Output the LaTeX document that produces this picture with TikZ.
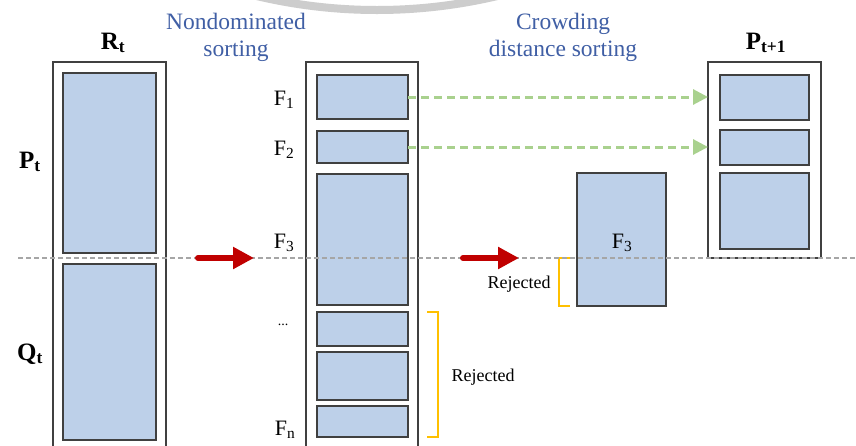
\documentclass[tikz,border=0pt]{standalone}
\usepackage{fontspec}
\setmainfont{Liberation Serif}
\usetikzlibrary{arrows.meta}
\definecolor{boxfill}{RGB}{189,208,233}
\definecolor{boxline}{RGB}{64,64,64}
\definecolor{headblue}{RGB}{64,95,165}
\definecolor{keepgreen}{RGB}{169,209,142}
\definecolor{dropred}{RGB}{192,0,0}
\definecolor{rejorange}{RGB}{255,192,0}
\definecolor{cutgray}{RGB}{166,166,166}
\definecolor{arcgray}{RGB}{205,205,205}
\begin{document}
\begin{tikzpicture}[x=1pt,y=-1pt,
  popbox/.style={draw=boxline,line width=2pt,fill=white,inner sep=0pt,outer sep=0pt},
  frontbox/.style={draw=boxline,line width=2.6pt,fill=boxfill,inner sep=0pt,outer sep=0pt},
  setname/.style={font=\fontsize{25}{29}\selectfont\bfseries,inner sep=0pt},
  flabel/.style={font=\fontsize{22}{26}\selectfont,inner sep=0pt},
  steptitle/.style={font=\fontsize{23.5}{27}\selectfont,text=headblue,align=center,inner sep=0pt},
  rejtext/.style={font=\fontsize{18}{22}\selectfont,inner sep=0pt},
  redarrow/.style={draw=dropred,line width=6pt,line cap=round,-{Triangle[length=21pt,width=21pt]}},
  keeparrow/.style={draw=keepgreen,line width=3pt,dash pattern=on 8pt off 5pt,-{Triangle[length=15pt,width=15pt]}},
  rejbracket/.style={draw=rejorange,line width=2.5pt},
  cutline/.style={draw=cutgray,line width=1.2pt,dash pattern=on 5pt off 3pt}
]
\clip (0,0) rectangle (856,445);
\fill[white] (0,0) rectangle (856,445);

% decorative arc along the top edge
\draw[arcgray,line width=8pt] (377,-510) circle[radius=520];

% R_t = P_t + Q_t
\node[popbox,minimum width=113pt,minimum height=400pt] (rbox) at (109,262) {};
\node[frontbox,minimum width=93pt,minimum height=180pt] (pt) at (109.5,163) {};
\node[frontbox,minimum width=93pt,minimum height=176pt] (qt) at (109.5,352) {};
\node[setname] (rlab) at (113,43) {R\textsubscript{t}};
\node[setname] (plab) at (30,162) {P\textsubscript{t}};
\node[setname] (qlab) at (30,354) {Q\textsubscript{t}};

% fronts after nondominated sorting
\node[popbox,minimum width=112pt,minimum height=400pt] (fbox) at (362,262) {};
\node[frontbox,minimum width=91pt,minimum height=44pt] (f1) at (362.5,97) {};
\node[frontbox,minimum width=91pt,minimum height=32pt] (f2) at (362.5,147) {};
\node[frontbox,minimum width=91pt,minimum height=131pt] (f3) at (362.5,239.5) {};
\node[frontbox,minimum width=91pt,minimum height=34pt] (fd) at (362.5,329) {};
\node[frontbox,minimum width=91pt,minimum height=48pt] (fe) at (362.5,376) {};
\node[frontbox,minimum width=91pt,minimum height=31pt] (fn) at (362.5,421.5) {};
\node[flabel] (l1) at (284,100) {F\textsubscript{1}};
\node[flabel] (l2) at (284,150) {F\textsubscript{2}};
\node[flabel] (l3) at (284,243) {F\textsubscript{3}};
\node[font=\fontsize{14}{16}\selectfont,inner sep=0pt] (ld) at (283,325) {...};
\node[flabel] (ln) at (285,430) {F\textsubscript{n}};

% F3 split by crowding distance
\node[frontbox,minimum width=89pt,minimum height=133pt] (cf3) at (621.5,239.5) {};
\node[flabel] (cl3) at (622,243) {F\textsubscript{3}};

% P_{t+1}
\node[popbox,minimum width=113pt,minimum height=196pt] (nbox) at (764.5,160) {};
\node[frontbox,minimum width=89pt,minimum height=45pt] (n1) at (764.5,97.5) {};
\node[frontbox,minimum width=89pt,minimum height=35pt] (n2) at (764.5,147.5) {};
\node[frontbox,minimum width=89pt,minimum height=76pt] (n3) at (764.5,211) {};
\node[setname] (nlab) at (766,43) {P\textsubscript{t+1}};

% step titles
\node[steptitle] (t1) at (236,37) {Nondominated\\sorting};
\node[steptitle] (t2) at (563,37) {Crowding\\distance sorting};

% fronts carried over
\draw[keeparrow] (f1.east) -- (nbox.west |- f1.east);
\draw[keeparrow] (f2.east) -- (nbox.west |- f2.east);

% rejected parts
\draw[rejbracket] (427,312) -| (438,437) -- (427,437);
\node[rejtext] (rj1) at (483,377) {Rejected};
\draw[rejbracket] (570,258) -| (559,306) -- (570,306);
\node[rejtext] (rj2) at (519,284) {Rejected};

% population size cut
\coordinate (cs) at (18,258);
\coordinate (ce) at (856,258);
\draw[cutline] (cs) -- (ce);

% sorting steps
\coordinate (a1s) at (198,258);
\coordinate (a1e) at (254,258);
\coordinate (a2s) at (463,258);
\coordinate (a2e) at (519,258);
\draw[redarrow] (a1s) -- (a1e);
\draw[redarrow] (a2s) -- (a2e);
\end{tikzpicture}
\end{document}
